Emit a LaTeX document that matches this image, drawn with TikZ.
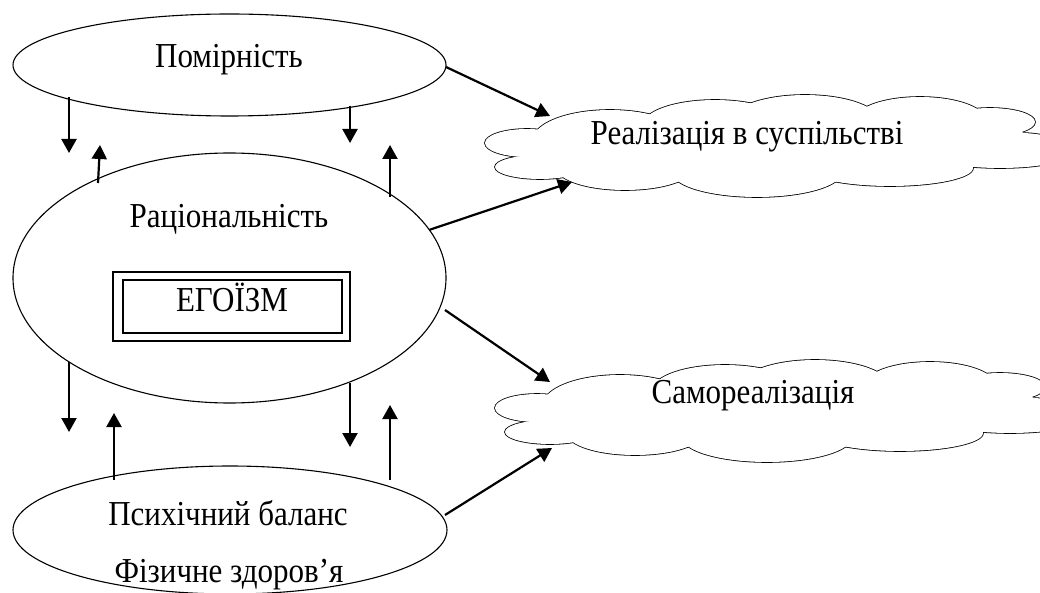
\documentclass[tikz,border=0pt]{standalone}
\usepackage{graphicx}
\usepackage{fontspec}
\setmainfont{Liberation Serif}
\usetikzlibrary{arrows.meta,shapes.geometric}
\newcommand\tall[1]{\scalebox{1}[1.13]{#1}}
\begin{document}
\begin{tikzpicture}[x=1pt,y=-1pt,
  oval/.style={draw,ellipse,line width=1.1pt,inner sep=0pt},
  lbl/.style={font=\fontsize{31}{36}\selectfont,inner sep=0pt,anchor=base},
  boxline/.style={draw,line width=1.1pt,inner sep=0pt},
  arr/.style={line width=2.2pt,-{Triangle[length=14pt,width=15pt]}},
  cloudline/.style={line width=1.6pt},
  cloudfill/.style={fill=white}]
\useasboundingbox (0,0) rectangle (1040,593);

\def\cloudlist{610/140/77/30, 715/125/72/25, 805/122/75/27, 920/120/65/23, 990/122/45/14, 1020/145/40/12, 1000/158/60/10, 890/168/83/18, 757/172/85/25, 625/168/68/22, 540/167/45/12, 527/143/42/14}

% clouds
\foreach \sx/\sy in {0/0, 10/265}{
  \begin{scope}[shift={(\sx,\sy)}]
    \foreach \cx/\cy/\rx/\ry in \cloudlist
      {\draw[cloudline] (\cx,\cy) ellipse [x radius=\rx pt, y radius=\ry pt];}
    \foreach \cx/\cy/\rx/\ry in \cloudlist
      {\fill[cloudfill] (\cx,\cy) ellipse [x radius=\rx pt, y radius=\ry pt];}
    \fill[cloudfill] (770,145) ellipse [x radius=210pt, y radius=30pt];
    \fill[cloudfill] (990,142) ellipse [x radius=45pt, y radius=14pt];
  \end{scope}
}
\node[lbl] (real) at (747,145) {\tall{Реалізація в суспільстві}};
\node[lbl] (samo) at (753,403) {\tall{Самореалізація}};

% ellipses
\node[oval,minimum width=433pt,minimum height=102pt] (pom) at (229.5,65) {};
\node[lbl] (pomt) at (229,68) {\tall{Помірність}};
\node[oval,minimum width=433pt,minimum height=250pt] (rat) at (229.5,278) {};
\node[lbl] (ratt) at (229,228) {\tall{Раціональність}};
\node[boxline,minimum width=237pt,minimum height=69pt] (egoout) at (231.5,306.5) {};
\node[boxline,minimum width=219pt,minimum height=53pt] (egoin) at (232.5,306.5) {};
\node[lbl] (ego) at (232,312) {\tall{ЕГОЇЗМ}};
\node[oval,minimum width=434pt,minimum height=128pt] (psy) at (230,530) {};
\node[lbl] (psyt) at (228,525) {\tall{Психічний баланс}};
\node[lbl] (fizt) at (229,582) {\tall{Фізичне здоров’я}};

% arrow end points
\coordinate (a1s) at (69,97);   \coordinate (a1e) at (69,153);
\coordinate (a2s) at (98,183);  \coordinate (a2e) at (100,145);
\coordinate (a3s) at (350,106); \coordinate (a3e) at (350,143);
\coordinate (a4s) at (390,197); \coordinate (a4e) at (390,145);
\coordinate (b1s) at (69,362);  \coordinate (b1e) at (69,432);
\coordinate (b2s) at (114,480); \coordinate (b2e) at (114,413);
\coordinate (b3s) at (350,383); \coordinate (b3e) at (350,447);
\coordinate (b4s) at (390,480); \coordinate (b4e) at (390,405);
\coordinate (d1s) at (446,67);  \coordinate (d1e) at (550,116);
\coordinate (d2s) at (429,230); \coordinate (d2e) at (572,182);
\coordinate (d3s) at (445,310); \coordinate (d3e) at (550,382);
\coordinate (d4s) at (445,515); \coordinate (d4e) at (552,448);

\foreach \p in {a1,a2,a3,a4,b1,b2,b3,b4,d1,d2,d3,d4}
  {\draw[arr] (\p s) -- (\p e);}
\end{tikzpicture}
\end{document}
